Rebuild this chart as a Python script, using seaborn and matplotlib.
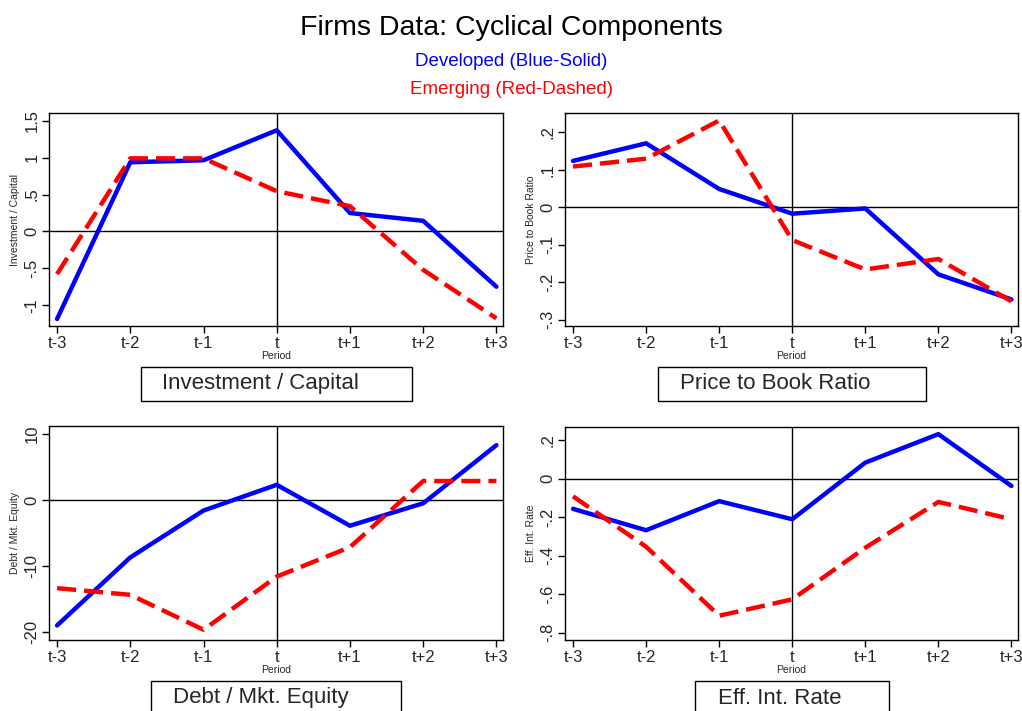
import numpy as np
import pandas as pd
import matplotlib
matplotlib.use("Agg")
import matplotlib.pyplot as plt
from matplotlib.patches import Rectangle
import seaborn as sns

# ---- data ----
periods = [-3, -2, -1, 0, 1, 2, 3]
period_labels = ["t-3", "t-2", "t-1", "t", "t+1", "t+2", "t+3"]

inv_dev = [-1.185, 0.937, 0.964, 1.37, 0.25, 0.144, -0.748]
inv_emg = [-0.577, 0.99, 0.99, 0.545, 0.342, -0.52, -1.176]

ptb_dev = [0.124, 0.171, 0.049, -0.017, -0.003, -0.179, -0.246]
ptb_emg = [0.109, 0.130, 0.232, -0.0875, -0.166, -0.138, -0.251]

dme_dev = [-19.0, -8.7, -1.6, 2.3, -3.9, -0.5, 8.3]
dme_emg = [-13.35, -14.36, -19.65, -11.6, -7.15, 2.87, 2.87]

eir_dev = [-0.157, -0.268, -0.117, -0.211, 0.083, 0.231, -0.038]
eir_emg = [-0.092, -0.354, -0.712, -0.627, -0.359, -0.121, -0.211]

titles = ["Investment / Capital", "Price to Book Ratio", "Debt / Mkt. Equity", "Eff. Int. Rate"]

yticks = [
    ([1.5, 1, 0.5, 0, -0.5, -1], ["1.5", "1", ".5", "0", "-.5", "-1"]),
    ([0.2, 0.1, 0, -0.1, -0.2, -0.3], [".2", ".1", "0", "-.1", "-.2", "-.3"]),
    ([10, 0, -10, -20], ["10", "0", "-10", "-20"]),
    ([0.2, 0, -0.2, -0.4, -0.6, -0.8], [".2", "0", "-.2", "-.4", "-.6", "-.8"]),
]
ylims = [(-1.28, 1.604), (-0.317, 0.252), (-21.2, 11.2), (-0.838, 0.268)]

sns.set_style("white")
plt.rcParams['font.family'] = ['Liberation Sans', 'DejaVu Sans']

W, H = 1022, 711
fig = plt.figure(figsize=(W / 100, H / 100), dpi=100)

def fx(px):
    return px / W

def fy(py):
    return 1 - py / H

# axes pixel boxes: (left, top, right, bottom)
boxes = [(49, 113, 503, 326), (565, 113, 1018, 326),
         (49, 426, 503, 640), (565, 427, 1018, 640)]
# label boxes: (left, top, right, bottom, text_left, text_center_y)
label_boxes = [(141, 367, 412, 401, 162, 384), (658, 367, 926, 401, 680, 384),
               (151, 681, 401, 720, 173, 698), (695, 681, 889, 720, 718, 698)]

series = [(inv_dev, inv_emg), (ptb_dev, ptb_emg), (dme_dev, dme_emg), (eir_dev, eir_emg)]

for i in range(4):
    l, t, r, b = boxes[i]
    ax = fig.add_axes([fx(l), fy(b), fx(r) - fx(l), fy(t) - fy(b)])
    dev, emg = series[i]
    df = pd.DataFrame({"period": periods, "dev": dev, "emg": emg})
    ax.axhline(0, color="black", lw=1.0, zorder=1)
    ax.axvline(0, color="black", lw=1.0, zorder=1)
    sns.lineplot(data=df, x="period", y="dev", ax=ax, color="#0000ff", lw=3.2, zorder=3)
    sns.lineplot(data=df, x="period", y="emg", ax=ax, color="#ff0000", lw=3.2,
                 linestyle=(0, (4.3, 1.8)), zorder=4)
    ax.set_xlim(-3.11, 3.09)
    ax.set_ylim(*ylims[i])
    ax.set_xticks(periods)
    ax.set_xticklabels(period_labels, fontsize=12)
    yt, ytl = yticks[i]
    ax.set_yticks(yt)
    ax.set_yticklabels(ytl, fontsize=12, rotation=90, va="center")
    ax.tick_params(axis="both", direction="out", length=5, width=1, color="black",
                   bottom=True, left=True, pad=2)
    ax.set_xlabel("Period", fontsize=7.5, labelpad=0)
    ax.set_ylabel(titles[i], fontsize=7.5, labelpad=3)
    for s in ax.spines.values():
        s.set_color("black")
        s.set_linewidth(1.0)
    ax.grid(False)

    bl, bt, br, bb, tl, tcy = label_boxes[i]
    fig.add_artist(Rectangle((fx(bl), fy(bb)), fx(br) - fx(bl), fy(bt) - fy(bb),
                             transform=fig.transFigure, fill=False,
                             edgecolor="black", lw=1.0))
    fig.text(fx(tl), fy(tcy), titles[i], fontsize=16, ha="left", va="center")

fig.text(0.5, fy(35), "Firms Data: Cyclical Components", fontsize=20.5,
         ha="center", va="baseline", color="black")
fig.text(0.5, fy(65.5), "Developed (Blue-Solid)", fontsize=13.5,
         ha="center", va="baseline", color="#0000ff")
fig.text(0.5, fy(94), "Emerging (Red-Dashed)", fontsize=13.5,
         ha="center", va="baseline", color="#ff0000")

fig.savefig("out.png", dpi=100)
